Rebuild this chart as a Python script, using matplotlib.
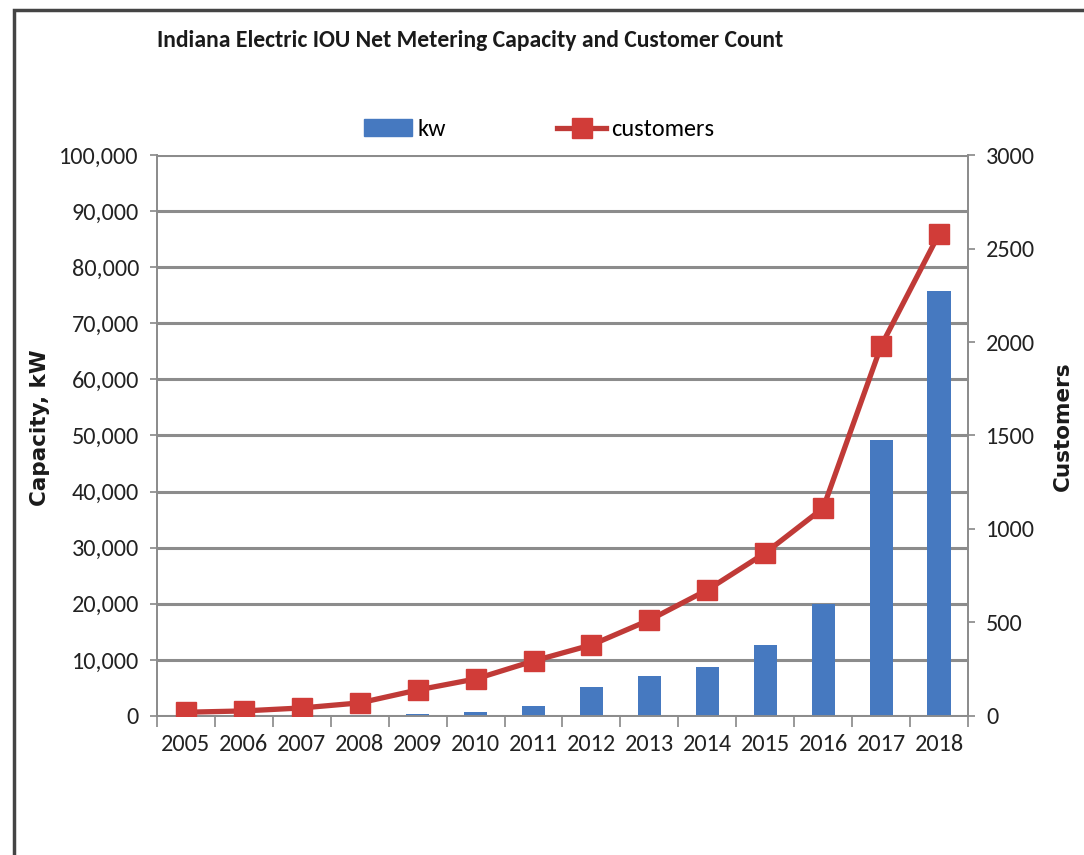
import numpy as np
import matplotlib.pyplot as plt
from matplotlib.patches import Rectangle
from matplotlib.ticker import FuncFormatter, FixedLocator

years = ['2005', '2006', '2007', '2008', '2009', '2010', '2011', '2012',
         '2013', '2014', '2015', '2016', '2017', '2018']
kw = [50, 80, 120, 200, 400, 700, 1800, 5200, 7100, 8700, 12600, 20000, 49200, 75800]
customers = [20, 27, 43, 70, 139, 198, 294, 380, 513, 674, 872, 1112, 1979, 2578]

narrow = ['Carlito', 'Lato', 'DejaVu Sans']
bar_col = '#4679C0'
line_col = '#C03A37'
mark_col = '#D13C38'

fig = plt.figure(figsize=(10.84, 8.55), dpi=100)
ax = fig.add_axes([0.1448, 0.1626, 0.7482, 0.6561])
ax2 = ax.twinx()

x = np.arange(len(years))
ax.bar(x, kw, width=0.4, color=bar_col, zorder=3)
ax2.plot(x, customers, color=line_col, lw=3.8, marker='s', markersize=15,
         markerfacecolor=mark_col, markeredgecolor=mark_col, zorder=4)

ax.set_xlim(-0.5, len(years) - 0.5)
ax.set_ylim(0, 100000)
ax2.set_ylim(0, 3000)
ax.set_yticks(np.arange(0, 100001, 10000))
ax.yaxis.set_major_formatter(FuncFormatter(lambda v, p: f'{int(v):,}'))
ax2.set_yticks(np.arange(0, 3001, 500))
ax.set_xticks(x)
ax.set_xticklabels(years)
ax.xaxis.set_minor_locator(FixedLocator(np.arange(-0.5, len(years), 1)))
ax.tick_params(axis='x', which='major', length=0, pad=13)
ax.tick_params(axis='x', which='minor', length=8, color='#888888', width=1.2)
ax.tick_params(axis='y', length=5, color='#888888', width=1.2, pad=8)
ax2.tick_params(axis='y', length=5, color='#888888', width=1.2, pad=8)

for lab in ax.get_xticklabels() + ax.get_yticklabels() + ax2.get_yticklabels():
    lab.set_family(narrow)
    lab.set_fontsize(17.5)
    lab.set_color('#222222')

ax.grid(axis='y', color='#8c8c8c', lw=2.2, zorder=0)
ax.set_axisbelow(True)
for a in (ax, ax2):
    a.spines['top'].set_visible(False)
    for s in ('left', 'right', 'bottom'):
        a.spines[s].set_color('#8c8c8c')
        a.spines[s].set_linewidth(1.3)

fig.text(40 / 1084, 1 - 428 / 855, 'Capacity, kW', rotation=90, fontsize=15.5, fontweight='bold',
         family='DejaVu Sans', ha='center', va='center', color='#1a1a1a')
fig.text(1063 / 1084, 1 - 426 / 855, 'Customers', rotation=90, fontsize=15.5, fontweight='bold',
         family='DejaVu Sans', ha='center', va='center', color='#1a1a1a')

fig.text(0.1448, 0.953, 'Indiana Electric IOU Net Metering Capacity and Customer Count',
         fontsize=17, fontweight='bold', family=narrow, color='#1a1a1a', va='center')

h1 = Rectangle((0, 0), 1, 1, color=bar_col)
h2, = ax2.plot([], [], color=line_col, lw=3.8, marker='s', markersize=15,
               markerfacecolor=mark_col, markeredgecolor=mark_col)
leg = fig.legend([h1, h2], ['kw', 'customers'], loc='center', bbox_to_anchor=(0.497, 0.848),
                 ncol=2, frameon=False, handlelength=2.0, handleheight=0.7, handletextpad=0.2,
                 columnspacing=4.6, prop={'family': narrow, 'size': 17.5})

fig.patches.append(Rectangle((14 / 1084, -0.1), 1.2, 1 - 10 / 855 + 0.1, transform=fig.transFigure,
                             fill=False, edgecolor='#444444', lw=2.5))

fig.savefig('out.png', dpi=100)
